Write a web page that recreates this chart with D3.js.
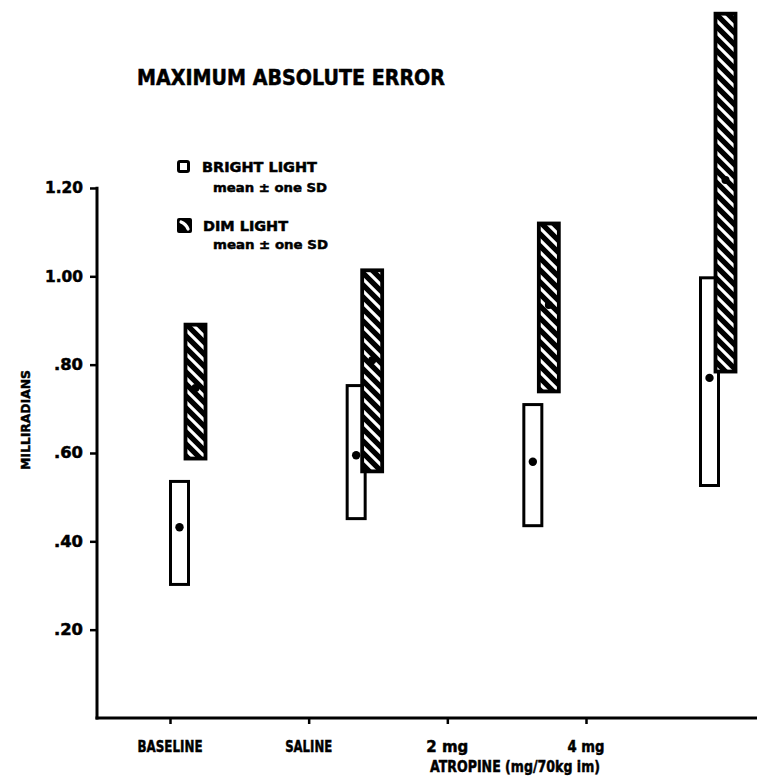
<!DOCTYPE html>
<html>
<head>
<meta charset="utf-8">
<script src="https://cdn.jsdelivr.net/npm/d3@7/dist/d3.min.js"></script>
<style>
  html, body { margin: 0; padding: 0; background: #fff; }
  svg { display: block; }
  text { font-family: "DejaVu Sans", sans-serif; font-weight: bold; fill: #000; stroke: #000; stroke-width: 0.5; }
</style>
</head>
<body>
<svg id="chart" width="757" height="780"></svg>
<script>
// Conditions along the x axis
const categories = ["BASELINE", "SALINE", "2 mg", "4 mg"];

// Bright light: mean and the ± one SD band (milliradians)
const brightMean = [0.432, 0.595, 0.580, 0.770];
const brightLow  = [0.299, 0.448, 0.432, 0.523];
const brightHigh = [0.539, 0.756, 0.713, 1.000];

// Dim light: mean and the ± one SD band (milliradians)
const dimMean = [0.747, 0.810, 0.935, 1.218];
const dimLow  = [0.584, 0.555, 0.736, 0.781];
const dimHigh = [0.894, 1.017, 1.123, 1.598];

// Y axis tick values and labels
const yTicks = [0.20, 0.40, 0.60, 0.80, 1.00, 1.20];
const yTickLabels = [".20", ".40", ".60", ".80", "1.00", "1.20"];

const svg = d3.select("#chart");

const y = d3.scaleLinear().domain([0, 1.6]).range([718, 11.3]);
// Tick positions of the category axis
const xTick = d3.scalePoint().domain(categories).range([170, 586]);
// Left edge of each pair of bars
const xGroup = d3.scalePoint().domain(categories).range([169, 699]);

const axisX = 97;

// Diagonal hatch for the dim-light bars
const defs = svg.append("defs");
const pat = defs.append("pattern")
  .attr("id", "hatch")
  .attr("patternUnits", "userSpaceOnUse")
  .attr("width", 12).attr("height", 12);
pat.append("rect").attr("width", 12).attr("height", 12).attr("fill", "#000");
pat.append("path")
  .attr("d", "M-3,-3 L15,15 M-9,3 L3,15 M3,-9 L15,3")
  .attr("stroke", "#fff").attr("stroke-width", 3.2);

// Title
svg.append("text")
  .attr("x", 137).attr("y", 85)
  .attr("font-size", 20.5)
  .attr("textLength", 308).attr("lengthAdjust", "spacingAndGlyphs")
  .text("MAXIMUM ABSOLUTE ERROR");

// Legend
const leg = svg.append("g");
leg.append("rect")
  .attr("x", 178.5).attr("y", 161.5).attr("width", 10).attr("height", 10)
  .attr("rx", 1.5)
  .attr("fill", "#fff").attr("stroke", "#000").attr("stroke-width", 3);
leg.append("text").attr("x", 202).attr("y", 172).attr("font-size", 13.5)
  .attr("textLength", 115).attr("lengthAdjust", "spacingAndGlyphs")
  .text("BRIGHT LIGHT");
leg.append("text").attr("x", 213).attr("y", 192).attr("font-size", 13)
  .attr("textLength", 114).attr("lengthAdjust", "spacingAndGlyphs")
  .text("mean ± one SD");

leg.append("rect")
  .attr("x", 177).attr("y", 218).attr("width", 15).attr("height", 15)
  .attr("rx", 2).attr("fill", "#000");
leg.append("path")
  .attr("d", "M181,222 Q186,224 188,229")
  .attr("fill", "none").attr("stroke", "#fff").attr("stroke-width", 3.2)
  .attr("stroke-linecap", "round");
leg.append("text").attr("x", 203).attr("y", 231).attr("font-size", 13.5)
  .attr("textLength", 85).attr("lengthAdjust", "spacingAndGlyphs")
  .text("DIM LIGHT");
leg.append("text").attr("x", 213).attr("y", 249).attr("font-size", 13)
  .attr("textLength", 115).attr("lengthAdjust", "spacingAndGlyphs")
  .text("mean ± one SD");

// Y axis
const yAxis = d3.axisLeft(y)
  .tickValues(yTicks)
  .tickFormat((d, i) => yTickLabels[i])
  .tickSize(7)
  .tickPadding(7);
const gy = svg.append("g").attr("transform", `translate(${axisX},0)`).call(yAxis);
gy.select(".domain").remove();
gy.selectAll(".tick line").attr("stroke", "#000").attr("stroke-width", 2.5);
gy.selectAll(".tick text")
  .attr("font-size", 15)
  .attr("font-family", "'DejaVu Sans', sans-serif")
  .attr("font-weight", "bold").attr("fill", "#000")
  .attr("stroke", "#000").attr("stroke-width", 0.5)
  .attr("textLength", function () { return this.textContent.length === 4 ? 38 : 29; })
  .attr("lengthAdjust", "spacingAndGlyphs");
svg.append("line")
  .attr("x1", axisX).attr("x2", axisX)
  .attr("y1", y(1.2) - 1.2).attr("y2", y(0) + 1.5)
  .attr("stroke", "#000").attr("stroke-width", 3);

// Y axis title
svg.append("text")
  .attr("transform", "translate(30,420) rotate(-90)")
  .attr("text-anchor", "middle")
  .attr("font-size", 13)
  .attr("textLength", 100).attr("lengthAdjust", "spacingAndGlyphs")
  .text("MILLIRADIANS");

// X axis
const xAxis = d3.axisBottom(xTick).tickSize(6).tickFormat(() => "");
const gx = svg.append("g").attr("transform", `translate(0,${y(0)})`).call(xAxis);
gx.select(".domain").remove();
gx.selectAll(".tick line").attr("stroke", "#000").attr("stroke-width", 2.5);
svg.append("line")
  .attr("x1", axisX - 1.5).attr("x2", 757)
  .attr("y1", y(0)).attr("y2", y(0))
  .attr("stroke", "#000").attr("stroke-width", 3);

// Category labels
const labelW = { "BASELINE": 65, "SALINE": 47, "2 mg": 42, "4 mg": 37 };
svg.append("g").selectAll("text")
  .data(categories)
  .join("text")
  .attr("x", d => xTick(d))
  .attr("y", 752)
  .attr("text-anchor", "middle")
  .attr("font-size", 16)
  .attr("textLength", d => labelW[d]).attr("lengthAdjust", "spacingAndGlyphs")
  .text(d => d);

svg.append("text")
  .attr("x", 430).attr("y", 772)
  .attr("font-size", 15)
  .attr("textLength", 170).attr("lengthAdjust", "spacingAndGlyphs")
  .text("ATROPINE (mg/70kg im)");

// Bars: bright light (open) first, dim light (hatched) on top
const rows = categories.map((c, i) => ({
  c,
  bMean: brightMean[i], bLow: brightLow[i], bHigh: brightHigh[i],
  dMean: dimMean[i], dLow: dimLow[i], dHigh: dimHigh[i]
}));

const bw = 18, dw = 20;
const bars = svg.append("g");

bars.selectAll("rect.bright")
  .data(rows).join("rect")
  .attr("class", "bright")
  .attr("x", d => xGroup(d.c) + 1.5)
  .attr("y", d => y(d.bHigh) + 1.5)
  .attr("width", bw)
  .attr("height", d => y(d.bLow) - y(d.bHigh) - 3)
  .attr("fill", "#fff").attr("stroke", "#000").attr("stroke-width", 3);

bars.selectAll("circle.bright")
  .data(rows).join("circle")
  .attr("class", "bright")
  .attr("cx", d => xGroup(d.c) + 1.5 + bw / 2)
  .attr("cy", d => y(d.bMean))
  .attr("r", 4.2).attr("fill", "#000");

bars.selectAll("rect.dim")
  .data(rows).join("rect")
  .attr("class", "dim")
  .attr("x", d => xGroup(d.c) + 16.5)
  .attr("y", d => y(d.dHigh) + 1.5)
  .attr("width", dw)
  .attr("height", d => y(d.dLow) - y(d.dHigh) - 3)
  .attr("fill", "url(#hatch)").attr("stroke", "#000").attr("stroke-width", 3.8);

bars.selectAll("circle.dim")
  .data(rows).join("circle")
  .attr("class", "dim")
  .attr("cx", d => xGroup(d.c) + 16.5 + dw / 2)
  .attr("cy", d => y(d.dMean))
  .attr("r", 4).attr("fill", "#000");
</script>
</body>
</html>
